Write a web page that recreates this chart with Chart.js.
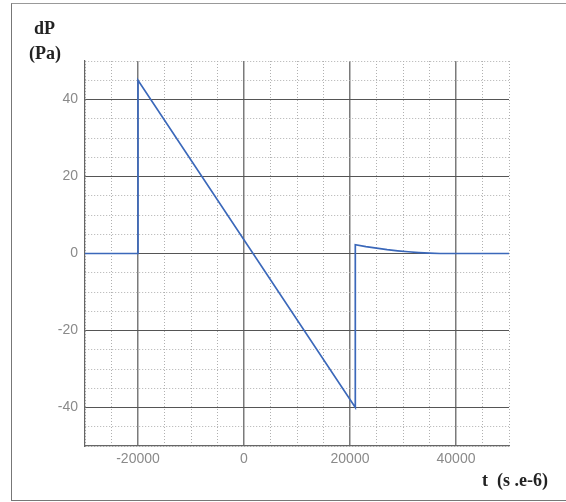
<!DOCTYPE html>
<html>
<head>
<meta charset="utf-8">
<script src="https://cdn.jsdelivr.net/npm/chart.js@4.4.1/dist/chart.umd.min.js"></script>
<style>
  html, body { margin: 0; padding: 0; background: #fff; }
  #wrap { position: relative; width: 566px; height: 502px; }
  #frame {
    position: absolute; left: 11px; top: 3px; width: 560px; height: 496px;
    border-left: 1.5px solid #777; border-top: 1.5px solid #999; border-bottom: 1.5px solid #777;
  }
  .lbl {
    position: absolute; font-family: "Liberation Serif", "DejaVu Serif", serif;
    font-weight: bold; color: #222; white-space: pre;
  }
  canvas { position: absolute; left: 0; top: 0; }
</style>
</head>
<body>
<div id="wrap">
  <div id="frame"></div>
  <canvas id="myChart" width="566" height="502"></canvas>
  <div class="lbl" style="left:34px; top:18px; font-size:18px;">dP</div>
  <div class="lbl" style="left:29px; top:43px; font-size:18px;">(Pa)</div>
  <div class="lbl" style="left:482px; top:470px; font-size:18px;">t  (s .e-6)</div>
</div>
<script>
// time in s.e-6, pressure difference in Pa
const tValues = [-30000, -20000, -20000, 21000, 21000, 23000, 25000, 27000, 29000, 31000, 33000, 35000, 37000, 50000];
const dpValues = [0, 0, 45, -40, 2.3, 1.8, 1.4, 1.0, 0.7, 0.45, 0.25, 0.1, 0, 0];
const xTickLabels = [-20000, 0, 20000, 40000];
const yTickLabels = [-40, -20, 0, 20, 40];

const points = tValues.map((t, i) => {
  return { x: t, y: dpValues[i] };
});

const tickFont = { family: "'Liberation Sans', Arial, sans-serif", size: 14 };

var ctx = document.getElementById("myChart").getContext("2d");
var chart = new Chart(ctx, {
  type: "line",
  data: {
    datasets: [
      {
        data: points,
        borderColor: "#3b68ba",
        borderWidth: 1.7,
        pointRadius: 0,
        tension: 0,
        fill: false
      }
    ]
  },
  options: {
    responsive: false,
    animation: false,
    layout: { padding: { left: 15, right: 57, top: 61, bottom: 0 } },
    plugins: { legend: { display: false }, tooltip: { enabled: false } },
    scales: {
      x: {
        type: "linear",
        min: -30000,
        max: 50000,
        afterFit: scale => { scale.height = 56; },
        ticks: {
          stepSize: 5000,
          autoSkip: false,
          maxRotation: 0,
          padding: 5,
          color: "#8a8a8a",
          font: tickFont,
          callback: v => (xTickLabels.includes(v) ? String(v) : "")
        },
        grid: {
          drawTicks: false,
          color: c => (c.tick && c.tick.value % 20000 === 0 ? "#7a7a7a" : "#b0b0b0"),
          lineWidth: c => (c.tick && c.tick.value % 20000 === 0 ? 1.5 : 1)
        },
        border: {
          display: true,
          color: "#666",
          width: 1.2,
          dash: c => (c.tick && c.tick.value % 20000 === 0 ? [] : [1, 2])
        }
      },
      y: {
        type: "linear",
        min: -50,
        max: 50,
        afterFit: scale => { scale.width = 70; },
        ticks: {
          stepSize: 5,
          autoSkip: false,
          padding: 7,
          color: "#8a8a8a",
          font: tickFont,
          callback: v => (yTickLabels.includes(v) ? String(v) : "")
        },
        grid: {
          drawTicks: false,
          color: c => (c.tick && c.tick.value % 20 === 0 ? "#555" : "#b0b0b0"),
          lineWidth: 1
        },
        border: {
          display: true,
          color: "#666",
          width: 1.2,
          dash: c => (c.tick && c.tick.value % 20 === 0 ? [] : [1, 2])
        }
      }
    }
  }
});
</script>
</body>
</html>
